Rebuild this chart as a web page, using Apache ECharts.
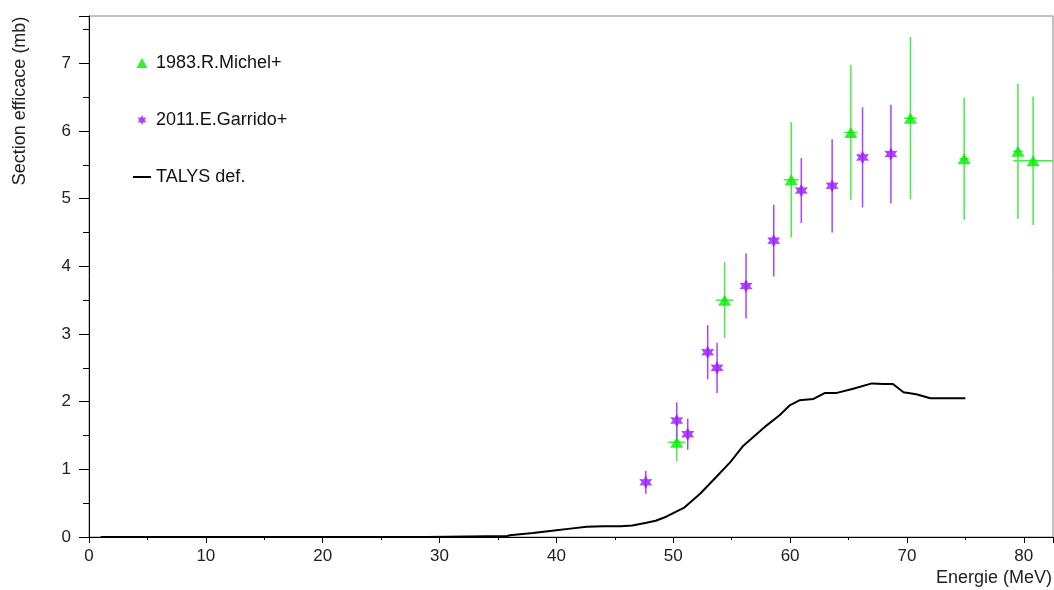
<!DOCTYPE html>
<html>
<head>
<meta charset="utf-8">
<script src="https://cdn.jsdelivr.net/npm/echarts@6/dist/echarts.min.js"></script>
<style>
html,body{margin:0;padding:0;background:#fff;}
#chart{width:1054px;height:590px;}
</style>
</head>
<body>
<div id="chart"></div>
<script>
// ---- Data ----
const michelName = '1983.R.Michel+';
const michelX    = [50.3, 54.4, 60.1, 65.2, 70.3, 74.9, 79.5, 80.8];
const michelY    = [1.40, 3.50, 5.28, 5.98, 6.19, 5.59, 5.70, 5.56];
const michelYErr = [0.28, 0.56, 0.85, 1.00, 1.20, 0.90, 1.00, 0.95];
const michelXErr = [0.74, 0.74, 0.64, 0.57, 0.54, 0.40, 0.40, 1.70];

const garridoName = '2011.E.Garrido+';
const garridoX    = [47.65, 50.3, 51.24, 52.95, 53.75, 56.23, 58.6, 60.96, 63.6, 66.2, 68.63];
const garridoY    = [0.81, 1.72, 1.52, 2.73, 2.50, 3.71, 4.38, 5.12, 5.19, 5.61, 5.66];
const garridoYErr = [0.17, 0.27, 0.23, 0.40, 0.37, 0.48, 0.53, 0.48, 0.69, 0.74, 0.73];

const talysName = 'TALYS def.';
const talysX = [1, 28.9, 29, 35.8, 36, 38, 40, 41, 42.6, 44, 45.5, 46.5, 47.7, 48.5, 49.4, 50.9, 52.3, 53.7, 54.9, 56, 57, 58, 59.1, 60, 60.8, 62, 63, 64, 65.4, 67, 68, 68.8, 69.7, 70.8, 72, 75];
const talysY = [0, 0, 0.015, 0.015, 0.025, 0.06, 0.10, 0.12, 0.15, 0.16, 0.16, 0.17, 0.21, 0.24, 0.30, 0.43, 0.64, 0.89, 1.11, 1.35, 1.50, 1.65, 1.80, 1.95, 2.02, 2.04, 2.13, 2.13, 2.19, 2.27, 2.26, 2.26, 2.14, 2.11, 2.05, 2.05];

const xTitle = 'Energie (MeV)';
const yTitle = 'Section efficace (mb)';

// ---- Styles ----
const green = '#00ee00';
const greenBar = '#44ee44';
const purple = '#9b10ff';
const purpleBar = '#a844ff';
const starPath = 'path://M50,0L63.5,26.6L93.3,25L77,50L93.3,75L63.5,73.4L50,100L36.5,73.4L6.7,75L23,50L6.7,25L36.5,26.6Z';
const triPath = 'path://M5,0L10,9L0,9Z';
const FONT = 'Liberation Sans, Arial, sans-serif';

function errSeries(name, xs, ys, yerr, xerr, color) {
  const data = xs.map((x, i) => [x, ys[i], yerr[i], xerr ? xerr[i] : 0]);
  return {
    name: name, type: 'custom', data: data, z: 2, silent: true,
    renderItem: function (params, api) {
      const x = api.value(0), y = api.value(1), ey = api.value(2), ex = api.value(3);
      const top = api.coord([x, y + ey]);
      const bot = api.coord([x, y - ey]);
      const children = [{
        type: 'line', shape: {x1: top[0], y1: top[1], x2: bot[0], y2: bot[1]},
        style: {stroke: color, lineWidth: 1.5}
      }];
      if (ex > 0) {
        const l = api.coord([x - ex, y]);
        const r = api.coord([x + ex, y]);
        children.push({
          type: 'line', shape: {x1: l[0], y1: l[1], x2: r[0], y2: r[1]},
          style: {stroke: color, lineWidth: 1.5}
        });
      }
      return {type: 'group', children: children};
    }
  };
}

const chart = echarts.init(document.getElementById('chart'), null, {renderer: 'canvas'});
chart.setOption({
  animation: false,
  backgroundColor: '#fff',
  textStyle: {fontFamily: FONT},
  grid: {left: 89, right: 1, top: 16, bottom: 53, show: true, borderColor: '#888', borderWidth: 1, containLabel: false},
  legend: {
    orient: 'vertical', left: 133, top: 53, padding: 0,
    itemWidth: 18, itemHeight: 10, itemGap: 37,
    selectedMode: false,
    textStyle: {fontSize: 18, color: '#111', fontFamily: FONT, lineHeight: 20},
    data: [
      {name: michelName, icon: triPath, itemStyle: {color: green}},
      {name: garridoName, icon: starPath, itemStyle: {color: purple}},
      {name: talysName, icon: 'path://M0,0H18V2H0Z', itemStyle: {color: '#000'}}
    ]
  },
  xAxis: {
    type: 'value', min: 0, max: 82.5, interval: 10,
    axisLine: {show: true, lineStyle: {color: '#000', width: 1}},
    axisTick: {show: true, length: 6, lineStyle: {color: '#000'}},
    minorTick: {show: true, splitNumber: 2, length: 3, lineStyle: {color: '#000'}},
    splitLine: {show: false},
    axisLabel: {fontSize: 17, color: '#222', margin: 11, showMaxLabel: false, fontFamily: FONT}
  },
  yAxis: {
    type: 'value', min: 0, max: 7.7, interval: 1,
    axisLine: {show: true, lineStyle: {color: '#000', width: 1}},
    axisTick: {show: true, length: 10, lineStyle: {color: '#000'}},
    minorTick: {show: true, splitNumber: 2, length: 6, lineStyle: {color: '#000'}},
    splitLine: {show: false},
    axisLabel: {fontSize: 17, color: '#222', margin: 18, showMaxLabel: false, fontFamily: FONT}
  },
  graphic: [
    {type: 'text', right: 2, top: 569,
     style: {text: xTitle, font: '18px Liberation Sans', fill: '#222', textAlign: 'right'}},
    {type: 'text', x: 20, y: 101, rotation: Math.PI / 2,
     style: {text: yTitle, font: '18px Liberation Sans', fill: '#222', textAlign: 'center', textVerticalAlign: 'middle'}}
  ],
  series: [
    errSeries('errMichel', michelX, michelY, michelYErr, michelXErr, greenBar),
    errSeries('errGarrido', garridoX, garridoY, garridoYErr, null, purpleBar),
    {
      name: talysName, type: 'line', symbol: 'none', z: 3,
      lineStyle: {color: '#000', width: 2},
      itemStyle: {color: '#000'},
      data: talysX.map((x, i) => [x, talysY[i]])
    },
    {
      name: michelName, type: 'scatter', symbol: 'triangle', symbolSize: [13, 11], z: 4,
      itemStyle: {color: green},
      data: michelX.map((x, i) => [x, michelY[i]])
    },
    {
      name: garridoName, type: 'scatter', symbol: starPath, symbolSize: 13, z: 4,
      itemStyle: {color: purple},
      data: garridoX.map((x, i) => [x, garridoY[i]])
    }
  ]
});
</script>
</body>
</html>
